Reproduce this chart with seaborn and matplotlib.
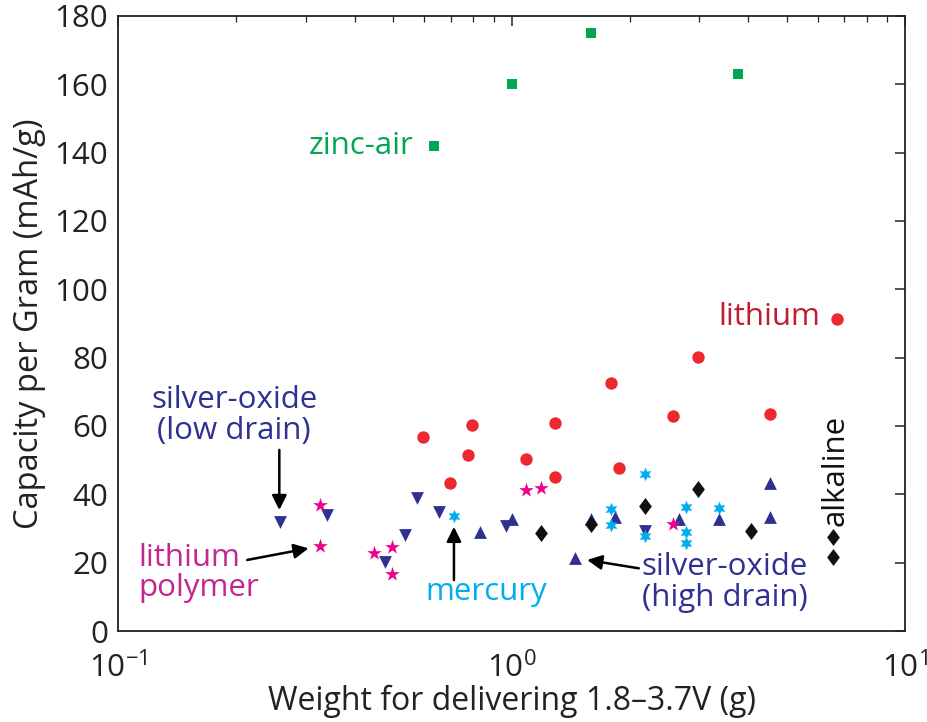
import matplotlib
matplotlib.use("Agg")
import matplotlib.pyplot as plt
import seaborn as sns
import numpy as np
from matplotlib.ticker import LogLocator, NullFormatter

# ---- data: weight for delivering 1.8-3.7 V (g) vs capacity per gram (mAh/g) ----
zinc_air_w = [0.635, 1.0, 1.59, 3.77]
zinc_air_c = [142, 160, 175, 163]

lithium_w = [0.595, 0.696, 0.773, 0.795, 1.09, 1.29, 1.29, 1.88, 1.785, 2.58, 2.97, 4.55, 6.72]
lithium_c = [56.9, 43.2, 51.6, 60.3, 50.3, 61.0, 45.2, 47.6, 72.5, 63.0, 80.3, 63.4, 91.3]

ag_low_w = [0.258, 0.339, 0.478, 0.536, 0.576, 0.656, 0.969, 2.18]
ag_low_c = [32.0, 33.9, 20.1, 28.1, 38.8, 34.9, 30.7, 29.3]

ag_high_w = [0.834, 1.0, 1.448, 1.59, 1.827, 2.67, 3.37, 4.55, 4.55]
ag_high_c = [29.1, 32.7, 21.5, 32.7, 33.3, 32.7, 32.8, 33.3, 43.2]

mercury_w = [0.714, 1.785, 1.785, 2.18, 2.18, 2.77, 2.77, 2.77, 3.37]
mercury_c = [33.7, 35.7, 31.0, 45.9, 27.8, 36.2, 29.1, 25.7, 35.9]

alkaline_w = [1.19, 1.59, 2.18, 2.975, 4.05, 6.55, 6.55]
alkaline_c = [28.6, 31.2, 36.6, 41.5, 29.3, 27.4, 21.7]

li_poly_w = [0.327, 0.327, 0.447, 0.496, 0.496, 1.09, 1.19, 2.57]
li_poly_c = [36.9, 24.9, 22.7, 24.7, 16.6, 41.3, 41.9, 31.2]

# ---- styling ----
sns.set_style("white")
plt.rcParams["font.family"] = ["Open Sans", "DejaVu Sans"]
plt.rcParams["mathtext.fontset"] = "custom"
plt.rcParams["mathtext.rm"] = "Open Sans"

GREEN = "#00A651"
RED = "#ED2830"
RED_TXT = "#BE1E2D"
NAVY = "#2E3192"
CYAN = "#00AEEF"
MAGENTA = "#EC008C"
MAGENTA_TXT = "#C2278F"
BLACK = "#111111"
INK = "#222222"

LABEL_FS = 22.5
diamond = [(0, 1), (0.75, 0), (0, -1), (-0.75, 0), (0, 1)]

fig = plt.figure(figsize=(9.27, 7.22), dpi=100)
ax = fig.add_axes([0.1273, 0.126, 0.849, 0.852])

series = [
    (zinc_air_w, zinc_air_c, "s", 55, GREEN),
    (lithium_w, lithium_c, "o", 80, RED),
    (ag_low_w, ag_low_c, "v", 85, NAVY),
    (ag_high_w, ag_high_c, "^", 85, NAVY),
    (alkaline_w, alkaline_c, diamond, 150, BLACK),
    (mercury_w, mercury_c, (6, 1, 0), 95, CYAN),
    (li_poly_w, li_poly_c, "*", 120, MAGENTA),
]
for w, c, m, s, col in series:
    sns.scatterplot(x=w, y=c, marker=m, s=s, color=col, linewidth=0,
                    ax=ax, legend=False, zorder=3)

ax.set_xscale("log")
ax.set_xlim(0.1, 10)
ax.set_ylim(0, 180)
ax.set_yticks(np.arange(0, 181, 20))
ax.xaxis.set_minor_locator(LogLocator(base=10, subs=np.arange(2, 10), numticks=20))
ax.xaxis.set_minor_formatter(NullFormatter())

for sp in ax.spines.values():
    sp.set_color(INK)
    sp.set_linewidth(1.3)

ax.tick_params(which="both", direction="in", top=True, right=True,
               colors=INK, labelcolor=INK)
ax.tick_params(which="major", length=7, width=1.1, labelsize=22.5, pad=7)
ax.tick_params(axis="x", which="major", pad=15)
ax.tick_params(which="minor", length=4, width=0.9)

ax.set_xlabel("Weight for delivering 1.8\u20133.7V (g)", fontsize=23, color=INK, labelpad=0)
ax.set_ylabel("Capacity per Gram (mAh/g)", fontsize=23.5, color=INK, labelpad=6)

# ---- category labels ----
ax.text(0.564, 142, "zinc-air", color=GREEN, fontsize=LABEL_FS, ha="right", va="center")
ax.text(6.1, 92, "lithium", color=RED_TXT, fontsize=LABEL_FS, ha="right", va="center")
ax.text(0.1974, 63.1, "silver-oxide\n(low drain)", color=NAVY, fontsize=LABEL_FS,
        ha="center", va="center", linespacing=1.02)
ax.text(0.1127, 17, "lithium\npolymer", color=MAGENTA_TXT, fontsize=LABEL_FS,
        ha="left", va="center", linespacing=1.02)
ax.text(0.863, 11.5, "mercury", color=CYAN, fontsize=LABEL_FS, ha="center", va="center")
ax.text(3.477, 14.2, "silver-oxide\n(high drain)", color=NAVY, fontsize=LABEL_FS,
        ha="center", va="center", linespacing=1.02)
ax.text(6.66, 47.1, "alkaline", color=BLACK, fontsize=LABEL_FS, ha="center", va="center",
        rotation=90)

arrow = dict(arrowstyle="-|>", color="black", lw=1.8, mutation_scale=22,
             shrinkA=0, shrinkB=0)
ax.annotate("", xy=(0.257, 35.4), xytext=(0.257, 53), arrowprops=arrow)
ax.annotate("", xy=(0.305, 24.2), xytext=(0.213, 20.8), arrowprops=arrow)
ax.annotate("", xy=(0.714, 30.5), xytext=(0.714, 14.9), arrowprops=arrow)
ax.annotate("", xy=(1.557, 20.8), xytext=(2.106, 18.35), arrowprops=arrow)

fig.savefig("out.png", dpi=100)
